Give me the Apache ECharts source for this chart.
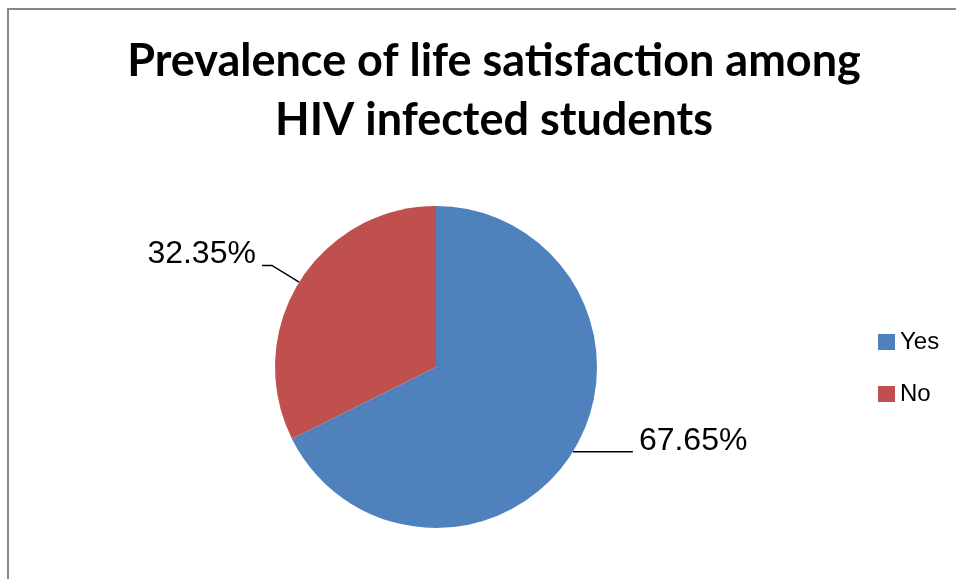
<!DOCTYPE html>
<html>
<head>
<meta charset="utf-8">
<script src="https://cdn.jsdelivr.net/npm/echarts@6/dist/echarts.min.js"></script>
<style>
  html, body { margin: 0; padding: 0; background: #ffffff; }
  #chart { width: 956px; height: 579px; }
</style>
</head>
<body>
<div id="chart"></div>
<script>
// Survey answers and their shares (percent)
const categories = ['Yes', 'No'];
const shares = [67.65, 32.35];
const sliceColors = ['#4F81BD', '#C0504D'];
// Leader line lengths per slice: [first segment, horizontal segment]
const leaderLines = [[0, 60], [32, 10]];

const chart = echarts.init(document.getElementById('chart'), null, { renderer: 'canvas' });

const pieData = categories.map((name, i) => ({
  name: name,
  value: shares[i],
  itemStyle: { color: sliceColors[i] },
  labelLine: { length: leaderLines[i][0], length2: leaderLines[i][1] }
}));

chart.setOption({
  backgroundColor: '#ffffff',
  animation: false,
  title: {
    text: 'Prevalence of life satisfaction among\nHIV infected students',
    left: 489,
    top: 27,
    textAlign: 'center',
    textStyle: {
      fontFamily: 'Lato',
      fontWeight: 'bold',
      fontSize: 45,
      lineHeight: 59,
      color: '#000000'
    }
  },
  legend: {
    orient: 'vertical',
    left: 873,
    top: 325,
    itemWidth: 17,
    itemHeight: 16,
    itemGap: 28,
    icon: 'rect',
    textStyle: {
      fontFamily: 'Liberation Sans',
      fontSize: 24,
      lineHeight: 24,
      color: '#000000'
    },
    data: categories
  },
  graphic: [{
    type: 'rect',
    silent: true,
    shape: { x: 8, y: 9, width: 1200, height: 800 },
    style: { fill: 'none', stroke: '#878787', lineWidth: 2 }
  }],
  series: [{
    type: 'pie',
    center: [436, 367],
    radius: [0, 161],
    startAngle: 90,
    clockwise: true,
    avoidLabelOverlap: false,
    itemStyle: { borderWidth: 0 },
    label: {
      show: true,
      position: 'outside',
      // value text sits above the leader line: a blank row below lifts it
      formatter: p => '{v|' + p.value.toFixed(2) + '%}\n{s|}',
      rich: {
        v: { fontFamily: 'Liberation Sans', fontSize: 32, lineHeight: 36, color: '#000000' },
        s: { height: 22, lineHeight: 22 }
      },
      distanceToLabelLine: 6
    },
    labelLine: {
      show: true,
      lineStyle: { color: '#000000', width: 1.5 }
    },
    emphasis: { disabled: true },
    data: pieData
  }]
});
</script>
</body>
</html>
